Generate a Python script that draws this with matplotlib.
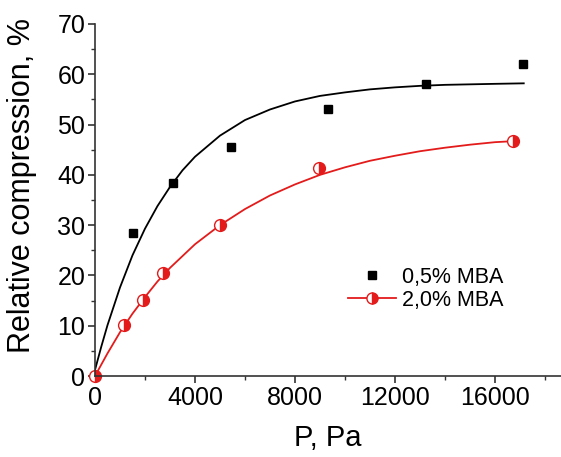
import numpy as np
import matplotlib
matplotlib.use("Agg")
import matplotlib.pyplot as plt
from matplotlib.ticker import MultipleLocator

plt.rcParams['font.family'] = ['Liberation Sans', 'DejaVu Sans']

# measured points
p_05 = [1530, 3110, 5430, 9330, 13230, 17130]
c_05 = [28.4, 38.4, 45.5, 53.1, 58.1, 62.0]
p_20 = [0, 1160, 1930, 2710, 5000, 8960, 16730]
c_20 = [0, 10.2, 15.2, 20.5, 30.0, 41.4, 46.7]

# fitted curves
fit_p_05 = [0, 250, 500, 1000, 1500, 2000, 2500, 3000, 3500, 4000, 5000, 6000,
            7000, 8000, 9000, 10000, 11000, 12000, 13000, 14000, 15000, 16000, 17150]
fit_c_05 = [1.2, 5.8, 10.1, 17.6, 24.0, 29.3, 33.8, 37.6, 40.9, 43.6, 47.8, 50.9,
            53.0, 54.6, 55.7, 56.4, 57.0, 57.4, 57.7, 57.9, 58.0, 58.1, 58.2]
fit_p_20 = [0, 500, 1000, 1500, 2000, 2500, 3000, 4000, 5000, 6000, 7000, 8000,
            9000, 10000, 11000, 12000, 13000, 14000, 15000, 16000, 16730]
fit_c_20 = [0, 4.5, 8.7, 12.4, 15.7, 18.8, 21.5, 26.2, 30.0, 33.2, 35.9, 38.1,
            40.0, 41.5, 42.8, 43.8, 44.7, 45.4, 46.0, 46.5, 46.7]

fig = plt.figure(figsize=(5.61, 4.57), dpi=100)
ax = fig.add_axes([0.1693, 0.1772, 0.8307, 0.7703])

ax.plot(fit_p_05, fit_c_05, color='black', lw=1.3)
ax.plot(p_05, c_05, 's', color='black', ms=6, label='0,5% MBA', clip_on=False)

ax.plot(fit_p_20, fit_c_20, color='#e31b1b', lw=1.3)
ax.plot(p_20, c_20, 'o', ms=8.5, color='#e31b1b', fillstyle='right',
        markerfacecolor='#e31b1b', markerfacecoloralt='white',
        markeredgecolor='#e31b1b', markeredgewidth=1.0, clip_on=False)
# legend handle for red series: line + marker
ax.plot([], [], '-o', color='#e31b1b', ms=8, lw=1.3, fillstyle='right',
        markerfacecolor='#e31b1b', markerfacecoloralt='white',
        markeredgecolor='#e31b1b', label='2,0% MBA')

ax.set_xlim(0, 18640)
ax.set_ylim(0, 70)
ax.xaxis.set_major_locator(MultipleLocator(4000))
ax.xaxis.set_minor_locator(MultipleLocator(2000))
ax.yaxis.set_major_locator(MultipleLocator(10))
ax.yaxis.set_minor_locator(MultipleLocator(5))

for s in ['top', 'right']:
    ax.spines[s].set_visible(False)
for s in ['left', 'bottom']:
    ax.spines[s].set_color('#333333')
    ax.spines[s].set_linewidth(1.2)

ax.tick_params(which='major', direction='out', length=5, width=1.2,
               color='#333333', labelsize=18, pad=2)
ax.tick_params(which='minor', direction='out', length=3, width=1.0, color='#333333')

ax.set_xlabel('P, Pa', fontsize=21, labelpad=10)
ax.set_ylabel('Relative compression, %', fontsize=22)
ax.yaxis.set_label_coords(-0.125, 0.54)

ax.legend(loc='upper left', bbox_to_anchor=(0.525, 0.335), frameon=False,
          fontsize=15.5, handlelength=2.2, handletextpad=0.3, labelspacing=0.1,
          borderaxespad=0)

fig.savefig('out.png', dpi=100)
